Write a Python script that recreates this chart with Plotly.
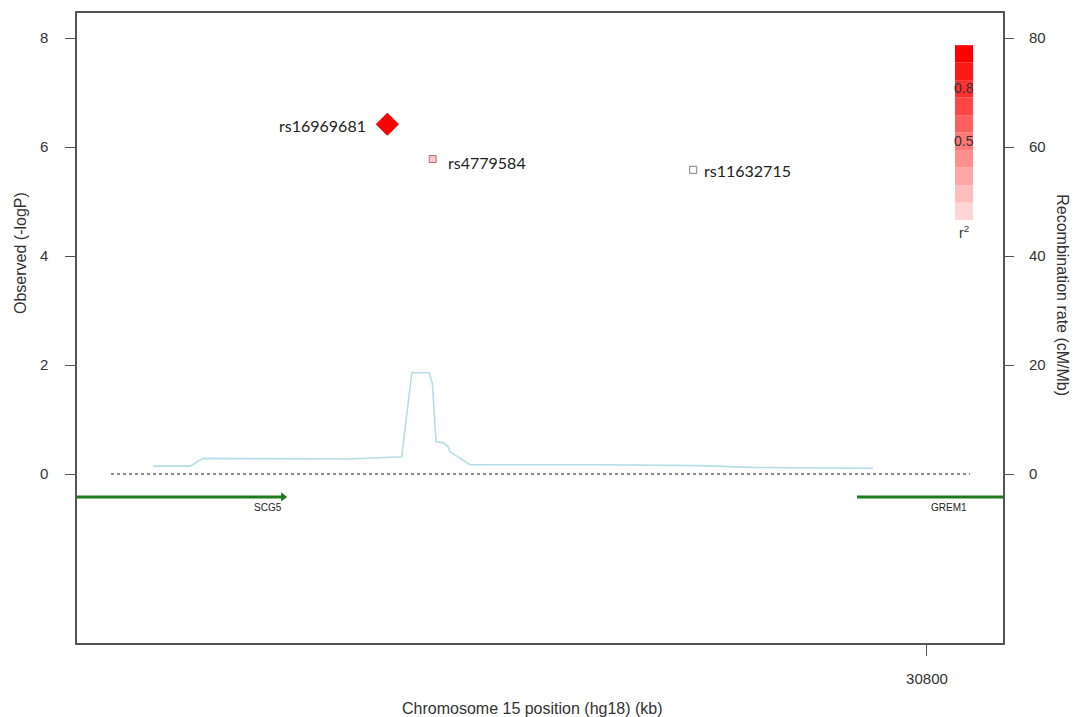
import plotly.graph_objects as go

# Region on chromosome 15 (hg18), positions in kb
x_range = [30769.03, 30802.77]
x_ticks = [30800]

# Associated SNPs: position (kb), -log10 P
snp_names = ["rs16969681", "rs4779584", "rs11632715"]
snp_pos = [30780.34, 30781.99, 30791.48]
snp_logp = [6.42, 5.78, 5.58]

# Recombination rate (cM/Mb) along the region
recomb_pos = [30771.80, 30773.15, 30773.62, 30774.61, 30775.34, 30778.98,
              30780.86, 30781.23, 30781.86, 30781.98, 30782.11, 30782.38,
              30782.56, 30782.62, 30783.35, 30788.09, 30791.73, 30793.66,
              30798.03]
recomb_rate = [1.46, 1.46, 2.87, 2.87, 2.75, 2.75, 3.17, 18.6, 18.6, 16.6,
               5.91, 5.73, 5.0, 4.08, 1.70, 1.70, 1.55, 1.23, 1.04]

# Genes in the region: start, end (kb)
gene_names = ["SCG5", "GREM1"]
gene_start = [30765.0, 30797.45]
gene_end = [30776.54, 30803.5]
gene_label_pos = [30776.0, 30800.8]

# r2 legend bins
r2_levels = [0.1, 0.2, 0.3, 0.4, 0.5, 0.6, 0.7, 0.8, 0.9, 1.0]

# Baseline extent
base_x = [30770.27, 30801.57]

LEFT = [-3.1, 8.46]
RIGHT = [v * 10 for v in LEFT]
GENE_Y = -0.42


def r2_colour(r):
    g = max(0, min(255, int(round(255 * (1 - r) * 0.93))))
    return f"rgb(255,{g},{g})"


fig = go.Figure()

# Recombination rate on the secondary axis
fig.add_trace(go.Scatter(
    x=recomb_pos, y=recomb_rate, yaxis="y2", mode="lines",
    line=dict(color="#b7dde8", width=1.6), hoverinfo="skip", showlegend=False))

# Baseline at -logP = 0
fig.add_trace(go.Scatter(
    x=base_x, y=[0, 0], mode="lines",
    line=dict(color="#8a8a8a", width=2, dash="dot"), showlegend=False))

# Gene tracks
for name, s, e in zip(gene_names, gene_start, gene_end):
    fig.add_trace(go.Scatter(
        x=[s, e], y=[GENE_Y, GENE_Y], mode="lines",
        line=dict(color="#1e7a1e", width=3), showlegend=False))
fig.add_trace(go.Scatter(
    x=[gene_end[0]], y=[GENE_Y], mode="markers",
    marker=dict(symbol="triangle-right", size=8, color="#1e7a1e"),
    showlegend=False))
for name, lx in zip(gene_names, gene_label_pos):
    fig.add_annotation(x=lx, y=GENE_Y, text=name, showarrow=False,
                       yshift=-11, font=dict(family="Liberation Sans Narrow, Liberation Sans",
                                             size=10, color="#222"))

# SNPs
fig.add_trace(go.Scatter(
    x=[snp_pos[0]], y=[snp_logp[0]], mode="markers",
    marker=dict(symbol="diamond", size=17, color="#ff0000",
                line=dict(color="#e00000", width=1)), showlegend=False))
fig.add_trace(go.Scatter(
    x=[snp_pos[1]], y=[snp_logp[1]], mode="markers",
    marker=dict(symbol="square", size=7, color="#f4caca",
                line=dict(color="#b07070", width=1)), showlegend=False))
fig.add_trace(go.Scatter(
    x=[snp_pos[2]], y=[snp_logp[2]], mode="markers",
    marker=dict(symbol="square", size=7, color="#ffffff",
                line=dict(color="#999999", width=1.2)), showlegend=False))

snp_font = dict(family="Lato, Open Sans", size=16, color="#222")
fig.add_annotation(x=snp_pos[0], y=snp_logp[0], text=snp_names[0], showarrow=False,
                   xanchor="right", xshift=-19, yshift=-1, font=snp_font)
fig.add_annotation(x=snp_pos[1], y=snp_logp[1], text=snp_names[1], showarrow=False,
                   xanchor="left", xshift=13, yshift=-3, font=snp_font)
fig.add_annotation(x=snp_pos[2], y=snp_logp[2], text=snp_names[2], showarrow=False,
                   xanchor="left", xshift=9, yshift=-1, font=snp_font)

# r2 legend bar
bar_x0, bar_x1 = 30801.02, 30801.68
bar_top, bar_bottom = 7.87, 4.66
step = (bar_top - bar_bottom) / len(r2_levels)
for i, r in enumerate(r2_levels):
    y0 = bar_bottom + i * step
    fig.add_shape(type="rect", xref="x", yref="y", x0=bar_x0, x1=bar_x1,
                  y0=y0, y1=y0 + step, line=dict(width=0),
                  fillcolor=r2_colour(r), layer="below")
bar_font = dict(family="Liberation Sans", size=14, color="#333")
xm = (bar_x0 + bar_x1) / 2
for lab in [0.8, 0.5]:
    fig.add_annotation(x=xm, y=bar_bottom + lab * (bar_top - bar_bottom),
                       text=str(lab), showarrow=False, font=bar_font, yshift=-8)
fig.add_annotation(x=xm, y=bar_bottom, text="r<sup>2</sup>", showarrow=False,
                   font=bar_font, yshift=-12)

# Axis titles
title_font = dict(family="Liberation Sans", size=16, color="#333")
fig.add_annotation(xref="paper", yref="paper", x=0.4924, y=-0.1032,
                   text="Chromosome 15 position (hg18) (kb)", showarrow=False,
                   xanchor="center", yanchor="middle", font=title_font)
fig.add_annotation(xref="paper", yref="paper", x=-0.0616, y=0.619,
                   text="Observed (-logP)", showarrow=False, textangle=-90,
                   xanchor="center", yanchor="middle", font=title_font)
fig.add_annotation(xref="paper", yref="paper", x=1.0648, y=0.552,
                   text="Recombination rate (cM/Mb)", showarrow=False, textangle=90,
                   xanchor="center", yanchor="middle", font=title_font)

tick_font = dict(family="Liberation Sans", size=15, color="#333")

fig.update_layout(
    width=1077, height=717,
    margin=dict(l=77, r=74, t=13, b=74),
    paper_bgcolor="white", plot_bgcolor="white",
    xaxis=dict(range=x_range, tickvals=x_ticks, ticktext=[str(v) for v in x_ticks],
               showgrid=False, zeroline=False, showline=True, mirror=True,
               linecolor="#555", linewidth=1.5, ticks="outside", ticklen=11,
               tickcolor="#555", ticklabelstandoff=10, tickfont=tick_font,
               automargin=False),
    yaxis=dict(range=LEFT, tickvals=[0, 2, 4, 6, 8], showgrid=False, zeroline=False,
               showline=True, mirror=True, linecolor="#555", linewidth=1.5,
               ticks="outside", ticklen=10, tickcolor="#555", ticklabelstandoff=14,
               tickfont=tick_font, automargin=False),
    yaxis2=dict(range=RIGHT, tickvals=[0, 20, 40, 60, 80], overlaying="y", side="right",
                showgrid=False, zeroline=False, showline=False,
                ticks="outside", ticklen=10, tickcolor="#555", ticklabelstandoff=12,
                tickfont=tick_font, automargin=False),
)

fig.write_html("out.html")
